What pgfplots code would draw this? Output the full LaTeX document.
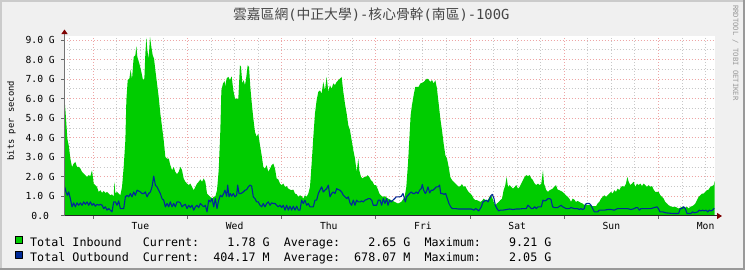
\documentclass[border=0pt]{standalone}
\usepackage{pgfplots}
\pgfplotsset{compat=1.18}
\usetikzlibrary{arrows.meta}
\usepackage{fontspec}
\setmainfont{DejaVu Sans Mono}
\newfontfamily\cjk{Noto Sans CJK TC}
\definecolor{bgcol}{RGB}{240,240,240}
\definecolor{shadea}{RGB}{203,203,203}
\definecolor{shadeb}{RGB}{153,153,153}
\definecolor{inbound}{RGB}{0,204,0}
\definecolor{outbound}{RGB}{0,42,151}
\definecolor{mgrid}{RGB}{238,165,165}
\definecolor{mingrid}{RGB}{200,200,200}
\definecolor{arrowred}{RGB}{127,0,0}
\definecolor{titlegray}{RGB}{70,70,70}
\newcommand\axisfont{\fontsize{9.7}{11}\selectfont}
\newcommand\legfont{\fontsize{11.7}{14}\selectfont}
\begin{document}
\begin{tikzpicture}
\fill[bgcol] (0pt,0pt) rectangle (745pt,270pt);
\fill[shadea] (0pt,268pt) rectangle (745pt,270pt);
\fill[shadea] (0pt,0pt) rectangle (2pt,270pt);
\fill[shadeb] (0pt,0pt) rectangle (745pt,2pt);
\fill[shadeb] (743pt,0pt) rectangle (745pt,270pt);
\begin{axis}[
  at={(64.5pt,54pt)}, anchor=south west,
  scale only axis, width=650.5pt, height=180pt,
  xmin=-7.34, xmax=158.4, ymin=0, ymax=9.21,
  axis background/.style={fill=white},
  axis x line=bottom, axis y line=left,
  axis line style={draw=none},
  xtick={0,24,48,72,96,120,144},
  xticklabels={,,,,,,},
  minor xtick={-6,6,12,18,30,36,42,54,60,66,78,84,90,102,108,114,126,132,138,150,156},
  extra x ticks={12,36,60,84,108,132,156},
  extra x tick labels={Tue,Wed,Thu,Fri,Sat,Sun,Mon},
  extra x tick style={grid=none, major tick length=0pt},
  xmajorgrids, xminorgrids, ymajorgrids, yminorgrids,
  ytick={0,1,2,3,4,5,6,7,8,9},
  yticklabels={0.0~~,1.0~G,2.0~G,3.0~G,4.0~G,5.0~G,6.0~G,7.0~G,8.0~G,9.0~G},
  minor ytick={0.5,1.5,2.5,3.5,4.5,5.5,6.5,7.5,8.5},
  major grid style={mgrid, line width=1pt, dash pattern=on 1pt off 2pt},
  minor grid style={mingrid, line width=1pt, dash pattern=on 1pt off 2pt},
  tick align=outside, major tick length=3pt, minor tick length=0pt,
  tick style={color=black!60, line width=1pt},
  xticklabel style={font=\axisfont, anchor=north, inner sep=0pt, text height=7.07pt, text depth=0pt, yshift=-6.3pt},
  yticklabel style={font=\axisfont, anchor=east, inner sep=0pt, xshift=-6.5pt},
  ylabel={bits per second},
  ylabel style={at={(axis description cs:-0.0815,0.529)}, anchor=center, font=\fontsize{8.8}{10}\selectfont, inner sep=0pt},
  title={{\cjk 雲嘉區網}({\cjk 中正大學})-{\cjk 核心骨幹}({\cjk 南區})-100G},
  title style={at={(axis description cs:0.4716,1.0888)}, anchor=center, font=\fontsize{13.8}{15}\selectfont, text=titlegray, inner sep=0pt},
  legend style={at={(axis description cs:-0.07610,-0.1111)}, anchor=north west, draw=none, fill=none, inner sep=0pt, outer sep=0pt, row sep=0pt, column sep=7.2pt, font=\legfont, nodes={inner sep=0pt, text height=10pt, text depth=4pt}},
  legend cell align=left,
]
\addplot[fill=inbound, draw=none, legend image code/.code={\draw[fill=inbound, draw=black, line width=1pt] (0pt,0.5pt) rectangle (7pt,7.5pt);}] coordinates {
(-7.34,5.95) (-7.29,5.89) (-6.95,4.99) (-6.61,3.96) (-6.27,3.62) (-5.85,2.94) (-5.42,2.51) (-5.00,2.68) (-4.57,2.77) (-4.15,2.51) (-3.72,2.51) (-3.30,2.43) (-2.87,2.26) (-2.45,2.17) (-2.02,2.09) (-1.60,2.00) (-1.18,2.09) (-0.75,2.04) (-0.33,2.34) (0.10,1.66) (0.52,1.58) (0.95,1.49) (1.37,1.23) (1.80,1.32) (2.22,1.18) (2.65,1.28) (3.07,1.18) (3.50,1.23) (3.92,1.15) (4.34,1.06) (4.77,1.11) (5.19,0.98) (5.36,1.75) (5.62,1.15) (6.04,1.23) (6.47,1.15) (6.89,1.06) (7.32,1.49) (7.74,2.51) (8.17,3.88) (8.42,5.92) (8.76,6.95) (9.19,7.03) (9.52,7.49) (9.86,6.98) (10.29,8.14) (10.71,8.23) (10.97,8.69) (11.22,8.14) (11.73,7.80) (12.24,7.37) (12.67,6.95) (13.01,7.03) (13.26,8.31) (13.52,9.13) (13.77,8.48) (14.11,8.05) (14.45,9.16) (14.79,8.65) (15.13,8.23) (15.47,8.05) (15.81,7.46) (16.23,6.78) (16.66,6.09) (17.08,5.24) (17.51,4.56) (17.93,3.88) (18.36,3.02) (18.78,2.94) (19.21,2.94) (19.63,2.60) (20.06,2.34) (20.48,2.51) (20.90,2.26) (21.33,2.14) (21.75,2.26) (22.18,2.51) (22.60,2.34) (23.03,1.92) (23.45,1.75) (23.88,1.66) (24.30,1.58) (24.73,1.66) (25.15,1.49) (25.58,1.32) (26.00,1.49) (26.43,1.66) (26.85,1.75) (27.28,1.87) (27.70,1.75) (28.12,1.92) (28.55,1.75) (28.97,1.15) (29.40,1.06) (29.82,0.98) (30.25,0.89) (30.67,0.98) (31.10,1.01) (31.52,1.32) (31.95,2.34) (32.37,4.39) (32.63,6.43) (33.05,6.78) (33.47,6.91)
(33.55,6.61) (33.97,7.03) (34.40,7.12) (34.82,6.95) (35.25,7.15) (35.67,6.43) (36.10,6.01) (36.52,6.01) (36.95,6.01) (37.37,7.71) (37.63,7.63) (37.97,6.78) (38.31,6.95) (38.65,6.69) (38.99,7.12) (39.33,7.71) (39.67,7.63) (40.00,6.61) (40.34,5.84) (40.77,4.99) (41.19,4.30) (41.62,4.05) (42.04,4.22) (42.47,3.62) (42.89,3.11) (43.32,2.51) (43.74,2.43) (44.17,2.60) (44.59,2.26) (45.02,2.43) (45.44,2.60) (45.86,2.68) (46.29,2.43) (46.71,1.92) (47.14,1.87) (47.56,1.66) (47.99,1.58) (48.41,1.66) (48.84,1.49) (49.26,1.53) (49.69,1.40) (50.11,1.35) (50.54,1.32) (50.96,1.35) (51.38,1.15) (51.81,1.11) (52.23,0.98) (52.66,1.06) (53.08,1.01) (53.51,0.89) (53.93,1.06) (54.36,0.98) (54.78,1.15) (55.21,1.49) (55.63,2.68) (56.06,4.05) (56.48,5.24) (56.90,5.92) (57.33,6.35) (57.75,6.43) (58.18,6.26) (58.60,6.86) (59.03,6.43) (59.45,7.12) (59.88,6.35) (60.30,6.69) (60.73,6.52) (61.15,6.78) (61.58,6.69) (62.00,6.86) (62.42,6.95) (62.85,7.03) (63.27,7.12) (63.70,6.35) (64.12,5.75) (64.55,5.24) (64.97,4.64) (65.40,4.39) (65.82,3.88) (66.25,3.37) (66.67,2.94) (67.10,2.26) (67.52,2.94) (67.77,2.34) (68.20,2.00) (68.62,1.92) (69.05,2.00) (69.47,2.00) (69.90,2.09) (70.32,2.00) (70.74,1.83) (71.17,1.75) (71.59,1.58) (72.02,1.58) (72.44,1.40) (72.87,1.15) (73.29,1.06) (73.72,0.98) (74.31,1.01)
(75.08,0.89) (75.93,0.81) (76.78,0.72) (77.63,0.64) (78.48,0.72) (79.33,0.98) (79.75,1.49) (80.18,2.68) (80.60,4.22) (80.85,5.16) (81.19,5.67) (81.62,6.18) (82.04,6.61) (82.47,6.61) (82.89,6.61) (83.32,6.78) (83.74,6.81) (84.17,6.86) (84.59,6.95) (85.02,7.03) (85.44,6.98) (85.87,6.86) (86.29,6.95) (86.71,6.78) (87.14,6.95) (87.56,6.52) (87.99,5.75) (88.41,4.99) (88.84,4.39) (89.26,3.71) (89.69,3.11) (90.11,2.94) (90.54,2.51) (90.96,2.00) (91.39,1.83) (91.81,1.75) (92.24,1.66) (92.66,1.58) (93.08,1.49) (93.51,1.53) (93.93,1.63) (94.36,1.49) (94.78,1.53) (95.21,1.35) (95.63,1.23) (96.06,1.15) (96.48,1.06) (96.91,0.89) (97.33,0.81) (97.76,0.81) (98.18,0.77) (98.61,0.72) (99.03,0.77) (99.45,0.89) (99.88,0.81) (100.30,0.77) (100.73,0.89) (101.15,1.06) (101.58,0.98) (102.00,0.72) (102.43,0.55) (102.85,0.64) (103.28,0.72) (103.70,0.81) (104.13,0.89) (104.55,1.32) (104.97,1.58) (105.31,2.00) (105.65,1.49) (106.08,1.58) (106.50,1.49) (106.93,1.40) (107.35,1.49) (107.78,1.58) (108.20,1.40) (108.63,1.49) (109.05,1.66) (109.47,1.83) (109.90,2.00) (110.32,2.09) (110.75,2.04) (111.17,2.09) (111.60,1.92) (112.02,1.83) (112.45,1.66) (112.87,1.58) (113.30,1.66) (113.72,1.58) (114.15,1.66) (114.57,2.34) (114.83,1.66) (115.42,1.32) (115.84,1.23) (116.27,1.32)
(116.61,1.35) (117.03,1.40) (117.46,1.49) (117.88,1.58) (118.31,1.35) (118.73,1.32) (119.16,1.28) (119.58,1.23) (120.01,1.15) (120.43,1.06) (120.86,0.98) (121.28,0.89) (121.71,0.72) (122.13,0.89) (122.55,0.84) (122.98,0.72) (123.40,0.77) (123.83,0.72) (124.25,0.67) (124.68,0.64) (125.10,0.55) (125.53,0.60) (125.95,0.55) (126.38,0.55) (126.80,0.55) (127.23,0.50) (127.65,0.50) (128.07,0.50) (128.50,0.64) (128.92,0.72) (129.35,0.89) (129.77,0.98) (130.20,1.06) (130.62,0.98) (131.05,1.06) (131.47,1.15) (131.90,1.23) (132.32,1.15) (132.75,1.32) (133.17,1.23) (133.59,1.40) (134.02,1.32) (134.44,1.49) (134.87,1.53) (135.29,1.49) (135.72,1.66) (136.06,2.00) (136.40,1.75) (136.82,1.58) (137.25,1.66) (137.67,1.75) (138.10,1.49) (138.52,1.66) (138.95,1.58) (139.37,1.66) (139.80,1.53) (140.22,1.66) (140.65,1.58) (141.07,1.49) (141.49,1.58) (141.92,1.49) (142.34,1.53) (142.77,1.35) (143.19,1.23) (143.62,1.23) (144.04,1.23) (144.47,1.06) (144.89,0.98) (145.32,0.89) (145.74,0.72) (146.17,0.64) (146.59,0.55) (147.02,0.50) (147.44,0.47) (147.86,0.47) (148.29,0.47) (148.71,0.43) (149.14,0.38) (149.56,0.43) (149.99,0.47) (150.41,0.47) (150.84,0.43) (151.26,0.47) (151.69,0.38) (152.11,0.47) (152.53,0.50) (152.96,0.55) (153.38,0.64) (153.81,0.81) (154.23,0.98) (154.66,1.06) (155.08,1.15) (155.51,1.15) (155.93,1.23) (156.36,1.32) (156.78,1.35) (157.21,1.49) (157.63,1.53) (158.06,1.58) (158.30,1.78)
} \closedcycle;
\addlegendentry{Total~Inbound~~~Current:~~~~1.78~G~~Average:~~~~2.65~G~~Maximum:~~~~9.21~G}
\addplot[color=outbound, line width=1.1pt, line join=round, legend image code/.code={\draw[fill=outbound, draw=black, line width=1pt] (0pt,0.5pt) rectangle (7pt,7.5pt);}] coordinates {
(-7.29,1.49) (-6.95,1.23) (-6.61,1.06) (-6.27,1.23) (-5.85,0.89) (-5.42,0.47) (-5.00,0.67) (-4.57,0.47) (-4.15,0.67) (-3.72,0.55) (-3.30,0.67) (-2.87,0.55) (-2.45,0.72) (-2.02,0.60) (-1.60,0.72) (-1.18,0.55) (-0.75,0.72) (-0.33,0.55) (0.10,0.64) (0.52,0.50) (0.95,0.60) (1.37,0.55) (1.80,0.60) (2.22,0.55) (2.65,0.38) (3.07,0.47) (3.50,0.30) (3.92,0.38) (4.34,0.30) (4.77,0.21) (5.19,0.72) (5.62,0.72) (6.04,0.55) (6.47,0.77) (6.89,0.38) (7.32,0.38) (7.74,0.38) (8.17,0.98) (8.59,1.06) (9.02,0.98) (9.44,1.15) (9.86,0.98) (10.29,1.23) (10.71,1.06) (11.14,1.32) (11.56,1.28) (11.99,1.23) (12.41,1.15) (12.84,1.15) (13.26,1.23) (13.69,0.98) (14.11,1.15) (14.54,1.23) (14.96,1.49) (15.39,2.04) (15.81,1.58) (16.23,1.49) (16.66,1.32) (17.08,1.15) (17.51,0.89) (17.93,0.81) (18.36,0.47) (18.78,0.64) (19.21,0.47) (19.63,0.72) (20.06,0.47) (20.48,0.64) (20.90,0.47) (21.33,0.72) (21.75,0.72) (22.18,0.67) (22.60,0.47) (23.03,0.55) (23.45,0.60) (23.88,0.38) (24.30,0.55) (24.73,0.43) (25.15,0.55) (25.58,0.30) (26.00,0.47) (26.43,0.55) (26.85,0.43) (27.28,0.64) (27.70,0.55) (28.12,0.47) (28.55,0.55) (28.97,0.21) (29.40,0.81) (29.82,0.72) (30.25,0.89) (30.67,0.47) (31.10,0.89) (31.52,0.38) (31.95,0.81) (32.37,1.06) (32.80,0.98) (33.22,1.15)
(33.55,1.32) (33.97,1.01) (34.23,1.58) (34.57,0.98) (34.91,1.15) (35.25,1.01) (35.67,1.15) (36.10,0.98) (36.52,1.06) (36.78,1.58) (37.12,1.15) (37.63,1.15) (38.22,1.23) (38.65,1.32) (39.07,1.35) (39.49,1.49) (39.92,1.58) (40.34,1.53) (40.77,0.98) (41.19,0.89) (41.62,0.72) (42.04,0.72) (42.47,0.55) (42.89,0.47) (43.32,0.64) (43.74,0.47) (44.17,0.64) (44.59,0.72) (45.02,0.55) (45.44,0.67) (45.86,0.64) (46.29,0.64) (46.71,0.55) (47.14,0.47) (47.56,0.55) (47.99,0.43) (48.41,0.55) (48.84,0.30) (49.26,0.55) (49.69,0.30) (50.11,0.50) (50.54,0.30) (50.96,0.50) (51.38,0.30) (51.81,0.50) (52.23,0.30) (52.66,0.30) (53.08,0.81) (53.51,0.64) (53.93,0.81) (54.36,0.55) (54.78,0.64) (55.21,0.47) (55.63,0.47) (56.06,0.47) (56.48,0.81) (56.90,0.81) (57.33,1.15) (57.75,1.32) (58.18,1.49) (58.60,1.23) (59.03,1.32) (59.45,1.40) (59.88,1.58) (60.30,0.98) (60.73,1.15) (61.15,1.23) (61.58,1.15) (62.00,1.40) (62.42,1.35) (62.85,1.32) (63.27,1.23) (63.70,1.06) (64.12,0.98) (64.55,0.89) (64.97,0.98) (65.40,0.67) (65.82,0.55) (66.25,0.81) (66.67,0.55) (67.10,0.81) (67.52,0.72) (67.94,0.72) (68.37,0.77) (68.79,0.72) (69.22,0.81) (69.64,0.84) (70.07,0.89) (70.49,0.89) (70.92,0.81) (71.34,0.55) (71.77,0.55) (72.19,0.55) (72.62,0.81) (73.04,0.81) (73.47,0.55) (73.89,0.89) (74.31,0.64) (74.74,0.89)
(75.08,0.55) (75.50,0.81) (75.93,0.72) (76.35,0.81) (76.78,0.89) (77.20,0.98) (77.63,0.98) (78.05,0.98) (78.48,1.01) (78.90,1.15) (79.16,0.98) (79.50,0.72) (79.84,0.98) (80.18,1.06) (80.60,1.15) (81.02,1.23) (81.45,1.15) (81.87,1.15) (82.30,1.23) (82.72,1.15) (83.15,1.32) (83.57,1.40) (83.83,1.61) (84.17,1.32) (84.59,1.15) (84.85,1.23) (85.27,1.49) (85.70,1.18) (86.12,1.32) (86.55,1.32) (86.97,1.40) (87.39,1.49) (87.82,1.49) (88.24,1.58) (88.50,1.15) (88.92,1.15) (89.35,1.11) (89.77,1.15) (90.20,0.89) (90.62,0.64) (91.05,0.47) (91.47,0.38) (91.90,0.38) (92.32,0.38) (92.91,0.36) (93.76,0.36) (94.61,0.36) (95.46,0.36) (96.31,0.36) (96.99,0.30) (97.42,0.38) (97.84,0.33) (98.18,0.26) (98.44,0.33) (98.86,0.47) (99.28,0.72) (99.71,0.77) (100.13,0.81) (100.56,0.72) (100.98,0.89) (101.41,1.06) (101.66,1.11) (102.09,0.89) (102.43,0.55) (102.85,0.38) (103.28,0.26) (103.70,0.30) (104.38,0.30) (105.23,0.33) (106.08,0.36) (106.93,0.33) (107.78,0.36) (108.63,0.36) (109.47,0.38) (110.32,0.38) (110.75,0.55) (111.17,0.47) (111.60,0.38) (112.02,0.38) (112.45,0.47) (112.87,0.38) (113.30,0.47) (113.72,0.47) (114.15,0.47) (114.57,0.81) (114.99,0.77) (115.42,0.81) (115.84,0.89) (116.27,0.89)
(116.61,0.84) (117.03,0.47) (117.46,0.43) (118.31,0.43) (119.16,0.55) (119.58,0.47) (120.01,0.43) (120.43,0.38) (121.28,0.38) (121.71,0.43) (122.55,0.38) (123.40,0.38) (123.83,0.33) (124.25,0.38) (124.68,0.33) (125.10,0.38) (125.36,0.60) (125.78,0.64) (126.38,0.64) (126.80,0.55) (127.23,0.38) (127.65,0.21) (128.50,0.21) (128.92,0.30) (130.20,0.30) (131.05,0.33) (131.90,0.33) (132.75,0.30) (133.59,0.38) (134.44,0.38) (136.14,0.38) (136.99,0.33) (137.84,0.38) (138.27,0.43) (138.69,0.43) (139.12,0.30) (139.54,0.38) (142.09,0.38) (142.94,0.43) (143.62,0.47) (143.96,0.38) (144.38,0.21) (145.06,0.21) (145.91,0.16) (147.61,0.13) (149.14,0.13) (149.56,0.38) (149.99,0.38) (150.41,0.47) (150.84,0.38) (151.26,0.13) (152.28,0.13) (152.70,0.21) (153.13,0.16) (153.98,0.21) (154.40,0.30) (154.83,0.26) (155.25,0.30) (155.68,0.26) (156.10,0.30) (156.53,0.21) (156.95,0.30) (157.38,0.26) (157.80,0.30) (158.20,0.40)
};
\addlegendentry{Total~Outbound~~Current:~~404.17~M~~Average:~~678.07~M~~Maximum:~~~~2.05~G}
\end{axis}
\begin{axis}[
  at={(64.5pt,54pt)}, anchor=south west,
  scale only axis, width=650.5pt, height=180pt,
  xmin=-7.34, xmax=158.4, ymin=0, ymax=9.21,
  axis x line=bottom, axis y line=left,
  xtick=\empty, ytick=\empty,
  x axis line style={color=black!85, line width=1pt, -{Triangle[length=5pt,width=6pt,color=arrowred]}, shorten >=-7pt},
  y axis line style={color=black!55, line width=1pt, -{Triangle[length=4.5pt,width=6pt,color=arrowred]}, shorten >=-6.5pt},
]
\end{axis}
\node[rotate=-90, anchor=west, font=\fontsize{7.2}{8}\selectfont, text=black!40, inner sep=0pt, text height=5.2pt, text depth=0pt] at (735.7pt,265pt) {RRDTOOL / TOBI OETIKER};
\pgfresetboundingbox
\path[use as bounding box] (0pt,0pt) rectangle (745pt,270pt);
\end{tikzpicture}
\end{document}
